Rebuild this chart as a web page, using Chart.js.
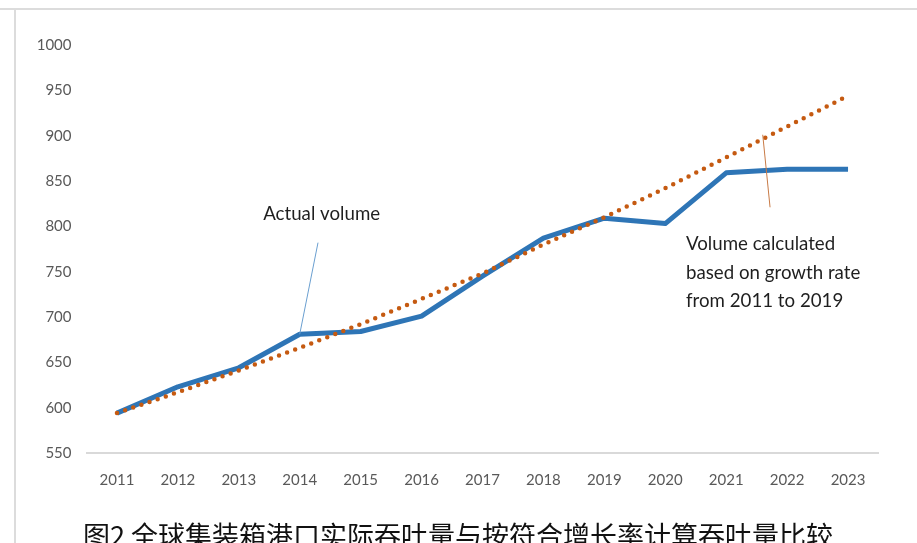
<!DOCTYPE html>
<html>
<head>
<meta charset="utf-8">
<script src="https://cdn.jsdelivr.net/npm/chart.js@4.4.0/dist/chart.umd.min.js"></script>
<style>
    html, body { margin: 0; padding: 0; background: #fff; overflow: hidden; }
    #wrap { position: relative; width: 917px; height: 543px; overflow: hidden; }
    #frame { position: absolute; left: 14px; top: 8px; width: 1000px; height: 1000px;
             border-top: 2px solid #dcdcdc; border-left: 2px solid #dcdcdc; }
    #frameTop { position: absolute; left: 0; top: 8px; width: 20px; border-top: 2px solid #dcdcdc; }
    #caption { position: absolute; left: 83px; top: 521px; font-family: "Noto Sans CJK SC", sans-serif;
               font-size: 27px; line-height: 27px; color: #111; white-space: nowrap; }
</style>
</head>
<body>
<div id="wrap">
    <div id="frameTop"></div>
    <div id="frame"></div>
    <canvas id="chart" width="917" height="543"></canvas>
    <div id="caption">图2 全球集装箱港口实际吞吐量与按符合增长率计算吞吐量比较</div>
</div>
<script>
const years = ["2011", "2012", "2013", "2014", "2015", "2016", "2017", "2018", "2019", "2020", "2021", "2022", "2023"];
const actualVolume = [594, 623, 644, 681, 684, 701, 745, 787, 809, 803, 859, 863, 863];
const calculatedVolume = [594, 617, 641, 666, 692, 720, 748, 780, 810, 842, 876, 910, 944];
const yTicks = [550, 600, 650, 700, 750, 800, 850, 900, 950, 1000];

// leader lines and labels, given in axis units (category index, value)
const notes = [
    { text: ["Actual volume"], at: [2.40, 814], line: [[3.30, 782], [3.0, 681]], color: "#6a9fd0" },
    { text: ["Volume calculated", "based on growth rate", "from 2011 to 2019"], at: [9.34, 780],
      line: [[10.60, 901], [10.72, 821]], color: "#c87a45" }
];

const notesPlugin = {
    id: "notes",
    afterDatasetsDraw(chart) {
        let ctx = chart.ctx;
        let x = chart.scales.x, y = chart.scales.y;
        ctx.save();
        notes.forEach(n => {
            ctx.strokeStyle = n.color;
            ctx.lineWidth = 1;
            ctx.beginPath();
            ctx.moveTo(x.getPixelForValue(n.line[0][0]), y.getPixelForValue(n.line[0][1]));
            ctx.lineTo(x.getPixelForValue(n.line[1][0]), y.getPixelForValue(n.line[1][1]));
            ctx.stroke();

            ctx.fillStyle = "#1f1f1f";
            ctx.font = "18.7px Lato";
            ctx.textBaseline = "middle";
            ctx.textAlign = "left";
            let tx = x.getPixelForValue(n.at[0]);
            let ty = y.getPixelForValue(n.at[1]);
            n.text.forEach((t, i) => ctx.fillText(t, tx, ty + i * 28.5));
        });
        ctx.restore();
    }
};

new Chart(document.getElementById("chart"), {
    type: "line",
    data: {
        labels: years,
        datasets: [{
            label: "Volume calculated",
            data: calculatedVolume,
            borderColor: "#c55a11",
            borderWidth: 4.5,
            borderDash: [0, 8.6],
            borderCapStyle: "round",
            pointRadius: 0,
            tension: 0,
            fill: false
        }, {
            label: "Actual volume",
            data: actualVolume,
            borderColor: "#2e75b6",
            borderWidth: 5,
            borderJoinStyle: "round",
            pointRadius: 0,
            tension: 0,
            fill: false
        }]
    },
    options: {
        responsive: false,
        animation: false,
        layout: { padding: { top: 45, right: 38.5, bottom: 0, left: 0 } },
        plugins: {
            legend: { display: false },
            tooltip: { enabled: false }
        },
        scales: {
            x: {
                offset: true,
                afterFit: s => { s.height = 90; },
                grid: { display: false },
                border: { display: true, color: "#d9d9d9", width: 2 },
                ticks: { color: "#595959", font: { family: "Lato", size: 15 }, padding: 10, maxRotation: 0 }
            },
            y: {
                min: 550,
                max: 1000,
                afterFit: s => { s.width = 86.5; },
                afterBuildTicks: s => { s.ticks = yTicks.map(v => ({ value: v })); },
                grid: { display: false },
                border: { display: false },
                ticks: { color: "#595959", font: { family: "Lato", size: 15 }, padding: 7, callback: v => String(v) }
            }
        }
    },
    plugins: [notesPlugin]
});
</script>
</body>
</html>
